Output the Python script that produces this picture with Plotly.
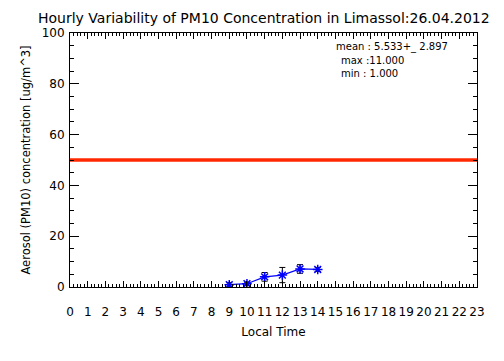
import plotly.graph_objects as go

hours = [9, 10, 11, 12, 13, 14]
pm10_mean = [0.9, 1.3, 4.0, 4.7, 7.1, 6.9]
pm10_err = [0.8, 0.6, 1.7, 3.0, 1.7, 0.8]
limit_x = [0, 23]
limit_y = [50, 50]
x_ticks = list(range(0, 24))
y_ticks = [0, 20, 40, 60, 80, 100]
title_text = "Hourly Variability of PM10 Concentration in Limassol:26.04.2012"
stats_lines = ["mean : 5.533+_ 2.897", "max :11.000", "min : 1.000"]

FONT = "DejaVu Sans"
OFF = 8  # default page body margin
# target plot box in page pixels: x 70..477, y 33..287
W, H = 504 - OFF, 361 - OFF
L, T = 70 - OFF, 33 - OFF
R = W - (477 - OFF)
B = H - (287 - OFF)
pw = W - L - R
ph = H - T - B

def px(x):
    return (x - OFF - L) / pw

def py(y):
    return (H - B - (y - OFF)) / ph

fig = go.Figure()
fig.add_trace(go.Scatter(
    x=limit_x, y=limit_y, mode="lines",
    line=dict(color="rgb(255,40,0)", width=3.5),
    showlegend=False, hoverinfo="skip"))
fig.add_trace(go.Scatter(
    x=hours, y=pm10_mean, mode="lines+markers",
    line=dict(color="rgb(0,0,255)", width=1.2),
    marker=dict(symbol="asterisk-open", size=8, color="rgb(0,0,255)",
                line=dict(color="rgb(0,0,255)", width=1.5)),
    error_y=dict(type="data", array=pm10_err, visible=True,
                 color="black", thickness=1, width=3),
    showlegend=False))

axis_common = dict(
    showgrid=False, zeroline=False, showline=True, linecolor="black",
    linewidth=1, mirror="ticks", ticks="inside", tickcolor="black",
    tickfont=dict(family=FONT, size=12, color="black"),
)

fig.update_xaxes(
    range=[0, 23], tickmode="array", tickvals=x_ticks,
    ticktext=[str(v) for v in x_ticks], ticklen=6,
    ticklabelstandoff=14,
    minor=dict(dtick=0.2, ticklen=3, tickcolor="black", ticks="inside", showgrid=False),
    title=dict(text="Local Time", font=dict(family=FONT, size=12, color="black"), standoff=9),
    **axis_common)
fig.update_yaxes(
    range=[0, 100], tickmode="array", tickvals=y_ticks,
    ticktext=[str(v) for v in y_ticks], ticklen=9,
    ticklabelstandoff=2,
    minor=dict(dtick=5, ticklen=4, tickcolor="black", ticks="inside", showgrid=False),
    title=dict(text="Aerosol (PM10) concentration [ug/m^3]",
               font=dict(family=FONT, size=11.5, color="black"), standoff=8),
    **axis_common)

annotations = [
    dict(text=title_text, x=px(36), y=py(18), xref="paper", yref="paper",
         xanchor="left", yanchor="middle", showarrow=False,
         font=dict(family=FONT, size=14, color="black")),
    dict(text=stats_lines[0], x=px(334), y=py(47), xref="paper", yref="paper",
         xanchor="left", yanchor="middle", showarrow=False,
         font=dict(family=FONT, size=10, color="black")),
    dict(text=stats_lines[1], x=px(339), y=py(60), xref="paper", yref="paper",
         xanchor="left", yanchor="middle", showarrow=False,
         font=dict(family=FONT, size=10, color="black")),
    dict(text=stats_lines[2], x=px(339), y=py(73), xref="paper", yref="paper",
         xanchor="left", yanchor="middle", showarrow=False,
         font=dict(family=FONT, size=10, color="black")),
]

fig.update_layout(
    width=W, height=H, margin=dict(l=L, r=R, t=T, b=B, autoexpand=False),
    paper_bgcolor="white", plot_bgcolor="white",
    annotations=annotations, showlegend=False,
)

fig.write_html("out.html")
